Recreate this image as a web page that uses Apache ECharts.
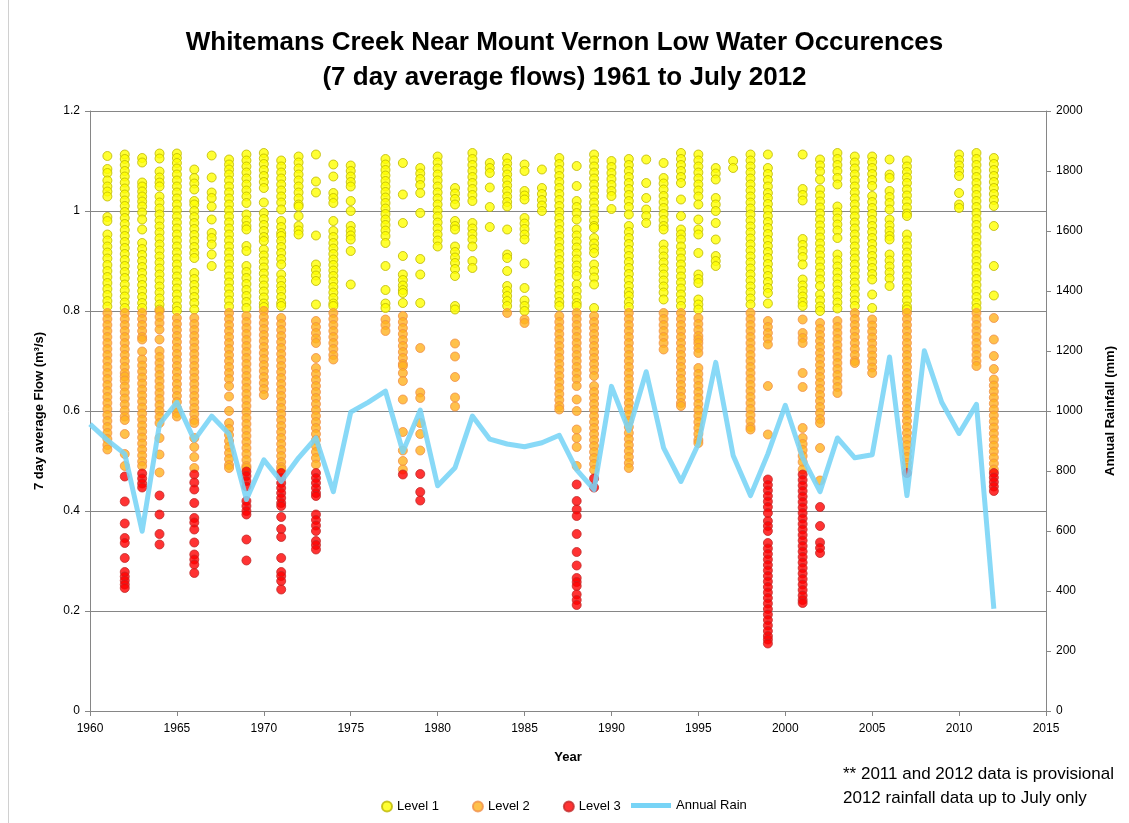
<!DOCTYPE html>
<html>
<head>
<meta charset="utf-8">
<title>Whitemans Creek Near Mount Vernon Low Water Occurences</title>
<script src="https://cdn.jsdelivr.net/npm/echarts@6/dist/echarts.min.js"></script>
<style>
  html, body { margin: 0; padding: 0; background: #fff; }
  #chart { width: 1129px; height: 823px; }
</style>
</head>
<body>
<div id="chart"></div>
<script>
// Low water occurences per year (7 day average flow, m3/s), split by level,
// plus annual rainfall (mm) on the right axis.

var rainYears = [1960, 1961, 1962, 1963, 1964, 1965, 1966, 1967, 1968, 1969,
  1970, 1971, 1972, 1973, 1974, 1975, 1976, 1977, 1978, 1979,
  1980, 1981, 1982, 1983, 1984, 1985, 1986, 1987, 1988, 1989,
  1990, 1991, 1992, 1993, 1994, 1995, 1996, 1997, 1998, 1999,
  2000, 2001, 2002, 2003, 2004, 2005, 2006, 2007, 2008, 2009,
  2010, 2011, 2012];
var rainMm = [956, 903, 857, 599, 956, 1029, 903, 983, 923, 705,
  837, 765, 844, 910, 731, 996, 1029, 1066, 864, 1003,
  751, 811, 983, 906, 890, 881, 894, 919, 804, 738,
  1082, 935, 1131, 877, 765, 890, 1162, 852, 718, 857,
  1019, 844, 731, 910, 844, 854, 1180, 718, 1201, 1029,
  925, 1022, 341];

var level1 = [
  [1961, [1.110, 1.084, 1.076, 1.061, 1.049, 1.039, 1.029, 0.988, 0.980, 0.953, 0.941, 0.929, 0.917, 0.905, 0.892, 0.880, 0.868, 0.856, 0.844, 0.832, 0.820, 0.809]],
  [1962, [1.113, 1.104, 1.092, 1.080, 1.069, 1.057, 1.045, 1.033, 1.021, 1.010, 0.998, 0.986, 0.974, 0.962, 0.950, 0.938, 0.926, 0.914, 0.902, 0.890, 0.878, 0.866, 0.853, 0.841, 0.829, 0.817, 0.806]],
  [1963, [1.106, 1.097, 1.057, 1.049, 1.039, 1.029, 1.019, 1.009, 0.997, 0.983, 0.963, 0.936, 0.924, 0.912, 0.900, 0.888, 0.876, 0.864, 0.852, 0.840, 0.828, 0.816, 0.806]],
  [1964, [1.115, 1.105, 1.079, 1.067, 1.057, 1.049, 1.029, 1.017, 1.005, 0.993, 0.981, 0.969, 0.957, 0.945, 0.933, 0.921, 0.909, 0.897, 0.885, 0.873, 0.861, 0.849, 0.837, 0.825, 0.813, 0.803]],
  [1965, [1.115, 1.106, 1.096, 1.085, 1.073, 1.061, 1.049, 1.037, 1.025, 1.013, 1.001, 0.989, 0.977, 0.965, 0.953, 0.941, 0.929, 0.917, 0.905, 0.893, 0.881, 0.869, 0.857, 0.845, 0.833, 0.821, 0.809, 0.800]],
  [1966, [1.083, 1.066, 1.055, 1.043, 1.020, 1.013, 1.000, 0.988, 0.976, 0.964, 0.952, 0.940, 0.928, 0.916, 0.906, 0.876, 0.864, 0.852, 0.840, 0.828, 0.816, 0.803]],
  [1967, [1.111, 1.067, 1.037, 1.026, 1.009, 0.983, 0.956, 0.946, 0.933, 0.913, 0.890]],
  [1968, [1.103, 1.093, 1.083, 1.073, 1.061, 1.049, 1.037, 1.025, 1.013, 1.001, 0.989, 0.977, 0.965, 0.953, 0.941, 0.929, 0.917, 0.905, 0.893, 0.881, 0.869, 0.857, 0.845, 0.833, 0.821, 0.809]],
  [1969, [1.113, 1.101, 1.089, 1.077, 1.065, 1.053, 1.041, 1.029, 1.016, 0.993, 0.981, 0.970, 0.963, 0.930, 0.920, 0.890, 0.878, 0.866, 0.854, 0.842, 0.830, 0.818, 0.806]],
  [1970, [1.116, 1.105, 1.094, 1.082, 1.070, 1.058, 1.046, 1.017, 0.996, 0.984, 0.972, 0.960, 0.948, 0.940, 0.923, 0.911, 0.899, 0.887, 0.875, 0.863, 0.851, 0.839, 0.827, 0.815, 0.808]],
  [1971, [1.101, 1.089, 1.077, 1.065, 1.053, 1.041, 1.029, 1.017, 1.003, 0.980, 0.968, 0.956, 0.950, 0.940, 0.928, 0.916, 0.904, 0.893, 0.873, 0.861, 0.850, 0.840, 0.828, 0.816, 0.810]],
  [1972, [1.109, 1.097, 1.085, 1.073, 1.061, 1.049, 1.037, 1.025, 1.013, 1.009, 0.990, 0.970, 0.961, 0.953]],
  [1973, [1.113, 1.059, 1.037, 0.951, 0.893, 0.882, 0.871, 0.860, 0.813]],
  [1974, [1.093, 1.069, 1.036, 1.026, 1.016, 0.980, 0.960, 0.948, 0.936, 0.925, 0.914, 0.903, 0.892, 0.881, 0.870, 0.859, 0.848, 0.837, 0.826, 0.815, 0.810]],
  [1975, [1.091, 1.080, 1.069, 1.058, 1.049, 1.020, 1.000, 0.970, 0.960, 0.951, 0.943, 0.920, 0.853]],
  [1977, [1.104, 1.093, 1.082, 1.071, 1.060, 1.049, 1.038, 1.027, 1.016, 1.005, 0.994, 0.983, 0.972, 0.961, 0.950, 0.936, 0.890, 0.842, 0.815, 0.806]],
  [1978, [1.096, 1.033, 0.976, 0.910, 0.873, 0.862, 0.851, 0.842, 0.836, 0.816]],
  [1979, [1.086, 1.075, 1.064, 1.052, 1.036, 0.996, 0.904, 0.873, 0.816]],
  [1980, [1.109, 1.097, 1.085, 1.073, 1.061, 1.049, 1.037, 1.025, 1.013, 1.001, 0.989, 0.977, 0.965, 0.953, 0.941, 0.929]],
  [1981, [1.046, 1.035, 1.024, 1.013, 0.980, 0.970, 0.963, 0.929, 0.918, 0.907, 0.896, 0.884, 0.870, 0.810, 0.803]],
  [1982, [1.116, 1.104, 1.092, 1.080, 1.068, 1.056, 1.044, 1.032, 1.020, 0.976, 0.965, 0.954, 0.943, 0.929, 0.900, 0.886]],
  [1983, [1.096, 1.086, 1.076, 1.047, 1.008, 0.968]],
  [1984, [1.106, 1.095, 1.084, 1.073, 1.062, 1.051, 1.040, 1.029, 1.018, 1.009, 0.963, 0.913, 0.906, 0.880, 0.850, 0.840, 0.830, 0.820, 0.810]],
  [1985, [1.093, 1.080, 1.040, 1.031, 1.023, 0.986, 0.975, 0.964, 0.953, 0.943, 0.895, 0.846, 0.821, 0.810, 0.800]],
  [1986, [1.083, 1.046, 1.034, 1.022, 1.011, 1.000]],
  [1987, [1.106, 1.094, 1.082, 1.070, 1.058, 1.046, 1.034, 1.022, 1.010, 0.998, 0.986, 0.974, 0.962, 0.950, 0.938, 0.926, 0.914, 0.902, 0.890, 0.878, 0.866, 0.854, 0.842, 0.830, 0.818, 0.810]],
  [1988, [1.090, 1.050, 1.020, 1.008, 0.996, 0.983, 0.963, 0.951, 0.939, 0.927, 0.915, 0.903, 0.891, 0.880, 0.870, 0.853, 0.840, 0.828, 0.816, 0.810]],
  [1989, [1.113, 1.101, 1.089, 1.077, 1.065, 1.053, 1.041, 1.029, 1.017, 1.005, 0.993, 0.981, 0.970, 0.966, 0.946, 0.935, 0.925, 0.916, 0.893, 0.880, 0.867, 0.853, 0.806]],
  [1990, [1.100, 1.088, 1.076, 1.064, 1.052, 1.040, 1.030, 1.004]],
  [1991, [1.104, 1.092, 1.080, 1.068, 1.056, 1.044, 1.032, 1.020, 1.008, 0.993, 0.970, 0.958, 0.946, 0.934, 0.922, 0.910, 0.898, 0.886, 0.874, 0.862, 0.850, 0.838, 0.830, 0.818, 0.808]],
  [1992, [1.103, 1.056, 1.026, 1.003, 0.990, 0.976]],
  [1993, [1.096, 1.066, 1.055, 1.043, 1.030, 1.018, 1.006, 0.994, 0.982, 0.970, 0.963, 0.933, 0.921, 0.909, 0.897, 0.885, 0.873, 0.861, 0.849, 0.837, 0.823]],
  [1994, [1.116, 1.104, 1.092, 1.080, 1.068, 1.056, 1.023, 0.990, 0.963, 0.953, 0.943, 0.929, 0.917, 0.905, 0.893, 0.881, 0.869, 0.857, 0.845, 0.833, 0.821, 0.810]],
  [1995, [1.113, 1.101, 1.089, 1.077, 1.065, 1.053, 1.041, 1.029, 1.013, 0.983, 0.963, 0.953, 0.916, 0.873, 0.864, 0.856, 0.823, 0.813, 0.803]],
  [1996, [1.086, 1.075, 1.063, 1.026, 1.013, 1.000, 0.976, 0.943, 0.910, 0.900, 0.890]],
  [1997, [1.100, 1.086]],
  [1998, [1.113, 1.101, 1.089, 1.077, 1.065, 1.053, 1.041, 1.029, 1.017, 1.005, 0.993, 0.981, 0.969, 0.957, 0.945, 0.933, 0.921, 0.909, 0.897, 0.885, 0.873, 0.861, 0.849, 0.837, 0.825, 0.813]],
  [1999, [1.113, 1.086, 1.074, 1.062, 1.049, 1.036, 1.026, 1.014, 1.002, 0.990, 0.978, 0.966, 0.954, 0.942, 0.930, 0.918, 0.906, 0.894, 0.882, 0.870, 0.858, 0.846, 0.836, 0.815]],
  [2001, [1.113, 1.044, 1.032, 1.021, 0.944, 0.932, 0.920, 0.908, 0.893, 0.863, 0.851, 0.840, 0.829, 0.818, 0.810]],
  [2002, [1.103, 1.091, 1.079, 1.063, 1.043, 1.031, 1.019, 1.007, 0.995, 0.983, 0.971, 0.959, 0.947, 0.935, 0.923, 0.911, 0.899, 0.887, 0.875, 0.863, 0.850, 0.833, 0.821, 0.809, 0.800]],
  [2003, [1.116, 1.104, 1.092, 1.080, 1.066, 1.053, 1.009, 0.997, 0.985, 0.973, 0.961, 0.946, 0.913, 0.901, 0.889, 0.877, 0.865, 0.853, 0.841, 0.829, 0.817, 0.805]],
  [2004, [1.109, 1.097, 1.085, 1.073, 1.061, 1.049, 1.037, 1.025, 1.013, 1.001, 0.989, 0.977, 0.965, 0.953, 0.941, 0.929, 0.917, 0.905, 0.893, 0.881, 0.869, 0.857, 0.845, 0.833, 0.821, 0.810]],
  [2005, [1.109, 1.098, 1.086, 1.074, 1.062, 1.050, 1.030, 1.018, 1.006, 0.994, 0.982, 0.970, 0.958, 0.946, 0.934, 0.922, 0.910, 0.898, 0.886, 0.874, 0.863, 0.833, 0.806]],
  [2006, [1.103, 1.073, 1.066, 1.040, 1.028, 1.016, 1.003, 0.983, 0.971, 0.960, 0.950, 0.943, 0.913, 0.901, 0.889, 0.877, 0.865, 0.850]],
  [2007, [1.101, 1.089, 1.078, 1.067, 1.056, 1.043, 1.031, 1.019, 1.007, 0.995, 0.990, 0.953, 0.941, 0.929, 0.917, 0.905, 0.893, 0.881, 0.869, 0.857, 0.845, 0.833, 0.821, 0.809, 0.803]],
  [2010, [1.113, 1.102, 1.091, 1.080, 1.070, 1.036, 1.013, 1.006]],
  [2011, [1.116, 1.104, 1.092, 1.080, 1.068, 1.056, 1.044, 1.032, 1.020, 1.008, 0.996, 0.984, 0.972, 0.960, 0.948, 0.936, 0.924, 0.912, 0.900, 0.888, 0.876, 0.864, 0.852, 0.840, 0.828, 0.816, 0.806]],
  [2012, [1.106, 1.094, 1.082, 1.070, 1.058, 1.046, 1.034, 1.022, 1.010, 0.970, 0.890, 0.831]]
];

var level2 = [
  [1961, [0.796, 0.784, 0.772, 0.760, 0.748, 0.736, 0.724, 0.712, 0.700, 0.688, 0.676, 0.664, 0.652, 0.640, 0.628, 0.616, 0.604, 0.592, 0.580, 0.568, 0.556, 0.544, 0.532, 0.523]],
  [1962, [0.796, 0.784, 0.772, 0.760, 0.748, 0.736, 0.724, 0.712, 0.700, 0.688, 0.676, 0.669, 0.661, 0.649, 0.637, 0.625, 0.613, 0.601, 0.589, 0.582, 0.554, 0.514, 0.490]],
  [1963, [0.796, 0.784, 0.772, 0.760, 0.748, 0.743, 0.719, 0.703, 0.691, 0.679, 0.667, 0.655, 0.643, 0.631, 0.619, 0.607, 0.595, 0.583, 0.571, 0.559, 0.547, 0.535, 0.523, 0.511, 0.499, 0.490]],
  [1964, [0.800, 0.788, 0.776, 0.763, 0.743, 0.720, 0.708, 0.696, 0.684, 0.672, 0.660, 0.648, 0.636, 0.624, 0.612, 0.600, 0.588, 0.576, 0.546, 0.513, 0.477]],
  [1965, [0.786, 0.774, 0.762, 0.750, 0.738, 0.726, 0.714, 0.702, 0.690, 0.678, 0.666, 0.654, 0.642, 0.630, 0.618, 0.606, 0.596, 0.589]],
  [1966, [0.786, 0.774, 0.762, 0.750, 0.738, 0.726, 0.714, 0.702, 0.690, 0.678, 0.666, 0.654, 0.642, 0.630, 0.618, 0.606, 0.594, 0.582, 0.576, 0.546, 0.528, 0.508, 0.486]],
  [1968, [0.796, 0.784, 0.772, 0.760, 0.748, 0.736, 0.724, 0.712, 0.700, 0.688, 0.676, 0.664, 0.650, 0.629, 0.600, 0.576, 0.564, 0.552, 0.540, 0.528, 0.516, 0.504, 0.492, 0.486]],
  [1969, [0.790, 0.778, 0.766, 0.754, 0.742, 0.730, 0.718, 0.706, 0.694, 0.682, 0.670, 0.658, 0.646, 0.634, 0.622, 0.610, 0.598, 0.586, 0.574, 0.562, 0.550, 0.538, 0.526, 0.514, 0.502, 0.490, 0.486]],
  [1970, [0.800, 0.788, 0.776, 0.764, 0.752, 0.740, 0.728, 0.716, 0.704, 0.692, 0.680, 0.668, 0.656, 0.644, 0.632]],
  [1971, [0.786, 0.774, 0.762, 0.750, 0.738, 0.726, 0.714, 0.702, 0.690, 0.678, 0.666, 0.654, 0.642, 0.630, 0.618, 0.606, 0.594, 0.582, 0.570, 0.558, 0.546, 0.534, 0.522, 0.510, 0.498, 0.488, 0.483]],
  [1973, [0.780, 0.768, 0.756, 0.745, 0.736, 0.706, 0.686, 0.674, 0.662, 0.650, 0.638, 0.626, 0.614, 0.602, 0.590, 0.578, 0.566, 0.554, 0.542, 0.530, 0.518, 0.506, 0.493]],
  [1974, [0.796, 0.784, 0.772, 0.760, 0.748, 0.736, 0.724, 0.712, 0.703]],
  [1977, [0.783, 0.772, 0.760]],
  [1978, [0.790, 0.778, 0.766, 0.754, 0.742, 0.730, 0.718, 0.706, 0.694, 0.690, 0.676, 0.660, 0.623, 0.558, 0.521, 0.500, 0.483]],
  [1979, [0.726, 0.637, 0.626, 0.576, 0.554, 0.521]],
  [1981, [0.735, 0.709, 0.668, 0.627, 0.609]],
  [1984, [0.796]],
  [1985, [0.783, 0.776]],
  [1987, [0.790, 0.778, 0.766, 0.754, 0.742, 0.730, 0.718, 0.706, 0.694, 0.682, 0.670, 0.658, 0.646, 0.634, 0.622, 0.610, 0.603]],
  [1988, [0.796, 0.784, 0.772, 0.760, 0.748, 0.736, 0.724, 0.712, 0.700, 0.688, 0.676, 0.664, 0.650, 0.623, 0.600, 0.563, 0.546, 0.528, 0.490]],
  [1989, [0.790, 0.778, 0.766, 0.754, 0.742, 0.730, 0.718, 0.706, 0.694, 0.682, 0.670, 0.650, 0.638, 0.626, 0.614, 0.602, 0.590, 0.578, 0.566, 0.554, 0.542, 0.530, 0.518, 0.506, 0.494, 0.482]],
  [1991, [0.796, 0.784, 0.772, 0.760, 0.748, 0.736, 0.724, 0.712, 0.700, 0.688, 0.676, 0.664, 0.652, 0.640, 0.628, 0.616, 0.604, 0.592, 0.580, 0.568, 0.556, 0.544, 0.532, 0.520, 0.508, 0.496, 0.486]],
  [1993, [0.796, 0.784, 0.772, 0.760, 0.748, 0.736, 0.723]],
  [1994, [0.796, 0.784, 0.772, 0.760, 0.748, 0.736, 0.724, 0.712, 0.700, 0.688, 0.676, 0.664, 0.652, 0.640, 0.628, 0.616, 0.610]],
  [1995, [0.786, 0.774, 0.762, 0.750, 0.743, 0.736, 0.726, 0.716, 0.686, 0.674, 0.662, 0.650, 0.638, 0.626, 0.614, 0.602, 0.590, 0.578, 0.566, 0.554, 0.542, 0.536]],
  [1998, [0.796, 0.784, 0.772, 0.760, 0.748, 0.736, 0.724, 0.712, 0.700, 0.688, 0.676, 0.664, 0.652, 0.640, 0.628, 0.616, 0.604, 0.592, 0.580, 0.568, 0.563]],
  [1999, [0.780, 0.768, 0.756, 0.745, 0.733, 0.650, 0.553]],
  [2001, [0.783, 0.756, 0.746, 0.736, 0.676, 0.648, 0.566, 0.546, 0.534, 0.522, 0.510, 0.498, 0.483]],
  [2002, [0.776, 0.764, 0.752, 0.740, 0.728, 0.716, 0.704, 0.692, 0.680, 0.668, 0.656, 0.644, 0.632, 0.620, 0.608, 0.596, 0.584, 0.576, 0.526, 0.461]],
  [2003, [0.780, 0.768, 0.756, 0.744, 0.732, 0.720, 0.708, 0.696, 0.684, 0.672, 0.660, 0.648, 0.636]],
  [2004, [0.796, 0.784, 0.772, 0.760, 0.748, 0.736, 0.724, 0.712, 0.700, 0.696]],
  [2005, [0.783, 0.771, 0.759, 0.747, 0.735, 0.723, 0.711, 0.699, 0.687, 0.676]],
  [2007, [0.796, 0.784, 0.772, 0.760, 0.748, 0.736, 0.724, 0.712, 0.700, 0.688, 0.676, 0.664, 0.652, 0.640, 0.628, 0.616, 0.604, 0.592, 0.580, 0.568, 0.556, 0.544, 0.532, 0.520, 0.508, 0.496, 0.486]],
  [2011, [0.796, 0.784, 0.772, 0.760, 0.748, 0.736, 0.724, 0.712, 0.700, 0.690]],
  [2012, [0.786, 0.743, 0.710, 0.684, 0.663, 0.651, 0.639, 0.627, 0.615, 0.603, 0.591, 0.579, 0.567, 0.555, 0.543, 0.531, 0.519, 0.507, 0.495, 0.483]]
];

var level3 = [
  [1962, [0.469, 0.419, 0.375, 0.346, 0.336, 0.306, 0.278, 0.269, 0.261, 0.253, 0.246]],
  [1963, [0.475, 0.465, 0.455, 0.447]],
  [1964, [0.431, 0.393, 0.354, 0.333]],
  [1966, [0.473, 0.457, 0.443, 0.416, 0.386, 0.377, 0.363, 0.337, 0.313, 0.303, 0.293, 0.276]],
  [1969, [0.479, 0.470, 0.460, 0.449, 0.420, 0.410, 0.400, 0.393, 0.343, 0.301]],
  [1971, [0.476, 0.466, 0.456, 0.446, 0.436, 0.426, 0.416, 0.410, 0.388, 0.364, 0.348, 0.306, 0.278, 0.270, 0.260, 0.243]],
  [1973, [0.476, 0.466, 0.456, 0.446, 0.436, 0.430, 0.393, 0.382, 0.371, 0.360, 0.340, 0.332, 0.323]],
  [1978, [0.473]],
  [1979, [0.474, 0.438, 0.421]],
  [1988, [0.453, 0.420, 0.403, 0.390, 0.354, 0.318, 0.291, 0.266, 0.258, 0.250, 0.233, 0.222, 0.212]],
  [1989, [0.465, 0.447]],
  [1999, [0.463, 0.452, 0.441, 0.430, 0.419, 0.408, 0.396, 0.380, 0.370, 0.360, 0.336, 0.325, 0.314, 0.303, 0.292, 0.281, 0.270, 0.259, 0.248, 0.237, 0.226, 0.215, 0.204, 0.193, 0.182, 0.171, 0.160, 0.150, 0.143, 0.135]],
  [2001, [0.473, 0.462, 0.451, 0.440, 0.429, 0.418, 0.407, 0.396, 0.385, 0.374, 0.363, 0.352, 0.341, 0.330, 0.319, 0.308, 0.297, 0.286, 0.275, 0.264, 0.253, 0.242, 0.231, 0.222, 0.216]],
  [2002, [0.408, 0.370, 0.337, 0.326, 0.316]],
  [2007, [0.476]],
  [2012, [0.476, 0.467, 0.458, 0.449, 0.440]]
];

(function () {
  "use strict";

  var FONT = "Liberation Sans, Arial, sans-serif";
  var AXIS_GREY = "#868686";

  function toPoints(rows) {
    var out = [];
    rows.forEach(function (r) {
      r[1].forEach(function (v) { out.push([r[0], v]); });
    });
    return out;
  }
  function plain(v) { return String(v); }

  function dotSeries(name, rows, fill, border) {
    return {
      name: name,
      type: "scatter",
      data: toPoints(rows),
      symbol: "circle",
      symbolSize: 9,
      itemStyle: { color: fill, borderColor: border, borderWidth: 1 },
      emphasis: { disabled: true },
      z: 2
    };
  }

  var chart = echarts.init(document.getElementById("chart"), null, { renderer: "canvas" });

  chart.setOption({
    backgroundColor: "#ffffff",
    animation: false,
    textStyle: { fontFamily: FONT },
    title: {
      text: "Whitemans Creek Near Mount Vernon Low Water Occurences\n(7 day average flows) 1961 to July 2012",
      left: "center",
      top: 20,
      textStyle: { fontSize: 26, fontWeight: "bold", color: "#000", lineHeight: 35, fontFamily: FONT }
    },
    grid: { left: 90, right: 83, top: 111, bottom: 112 },
    legend: [{
      data: ["Level 1", "Level 2", "Level 3"],
      left: 376, top: 795,
      icon: "circle",
      itemWidth: 10, itemHeight: 10,
      itemGap: 33,
      textStyle: { fontSize: 13, color: "#000" }
    }, {
      data: ["Annual Rain"],
      left: 626, top: 794,
      icon: "rect",
      itemWidth: 40, itemHeight: 5,
      itemStyle: { color: "#78d4f6" },
      textStyle: { fontSize: 13, color: "#000" }
    }],
    xAxis: {
      type: "value",
      min: 1960, max: 2015, interval: 5,
      name: "Year",
      nameLocation: "middle",
      nameGap: 40,
      nameTextStyle: { fontSize: 13, fontWeight: "bold", color: "#000" },
      axisLine: { lineStyle: { color: AXIS_GREY } },
      axisTick: { show: true, length: 5, lineStyle: { color: AXIS_GREY } },
      axisLabel: { fontSize: 12, color: "#000", margin: 12, formatter: plain },
      splitLine: { show: false }
    },
    yAxis: [{
      type: "value",
      min: 0, max: 1.2, interval: 0.2,
      name: "7 day average Flow (m\u00b3/s)",
      nameLocation: "middle",
      nameGap: 44,
      nameTextStyle: { fontSize: 13, fontWeight: "bold", color: "#000" },
      axisLine: { show: true, lineStyle: { color: AXIS_GREY } },
      axisTick: { show: true, length: 5, lineStyle: { color: AXIS_GREY } },
      axisLabel: { fontSize: 12, color: "#000", margin: 10, formatter: plain },
      splitLine: { show: true, lineStyle: { color: AXIS_GREY, width: 1 } }
    }, {
      type: "value",
      position: "right",
      min: 0, max: 2000, interval: 200,
      name: "Annual Rainfall (mm)",
      nameLocation: "middle",
      nameGap: 58,
      nameTextStyle: { fontSize: 13, fontWeight: "bold", color: "#000" },
      axisLine: { show: true, lineStyle: { color: AXIS_GREY } },
      axisTick: { show: true, length: 5, lineStyle: { color: AXIS_GREY } },
      axisLabel: { fontSize: 12, color: "#000", margin: 10, formatter: plain },
      splitLine: { show: false }
    }],
    series: [
      dotSeries("Level 1", level1, "#ffff00", "#bdb600"),
      dotSeries("Level 2", level2, "#ffb21e", "#f0904a"),
      dotSeries("Level 3", level3, "#ff0000", "#c22a2a"),
      {
        name: "Annual Rain",
        type: "line",
        yAxisIndex: 1,
        data: rainYears.map(function (y, i) { return [y, rainMm[i]]; }),
        symbol: "none",
        lineStyle: { color: "#78d4f6", width: 5, opacity: 0.88, join: "round" },
        itemStyle: { color: "#78d4f6" },
        emphasis: { disabled: true },
        z: 5
      }
    ],
    graphic: [{
      type: "text",
      left: 843, top: 766,
      style: { text: "** 2011 and 2012 data is provisional", font: "17px " + FONT, fill: "#000" }
    }, {
      type: "text",
      left: 843, top: 790,
      style: { text: "2012 rainfall data up to July only", font: "17px " + FONT, fill: "#000" }
    }, {
      type: "line",
      shape: { x1: 8.5, y1: 0, x2: 8.5, y2: 823 },
      style: { stroke: "#d0d0d0", lineWidth: 1 }
    }]
  });
})();
</script>
</body>
</html>
